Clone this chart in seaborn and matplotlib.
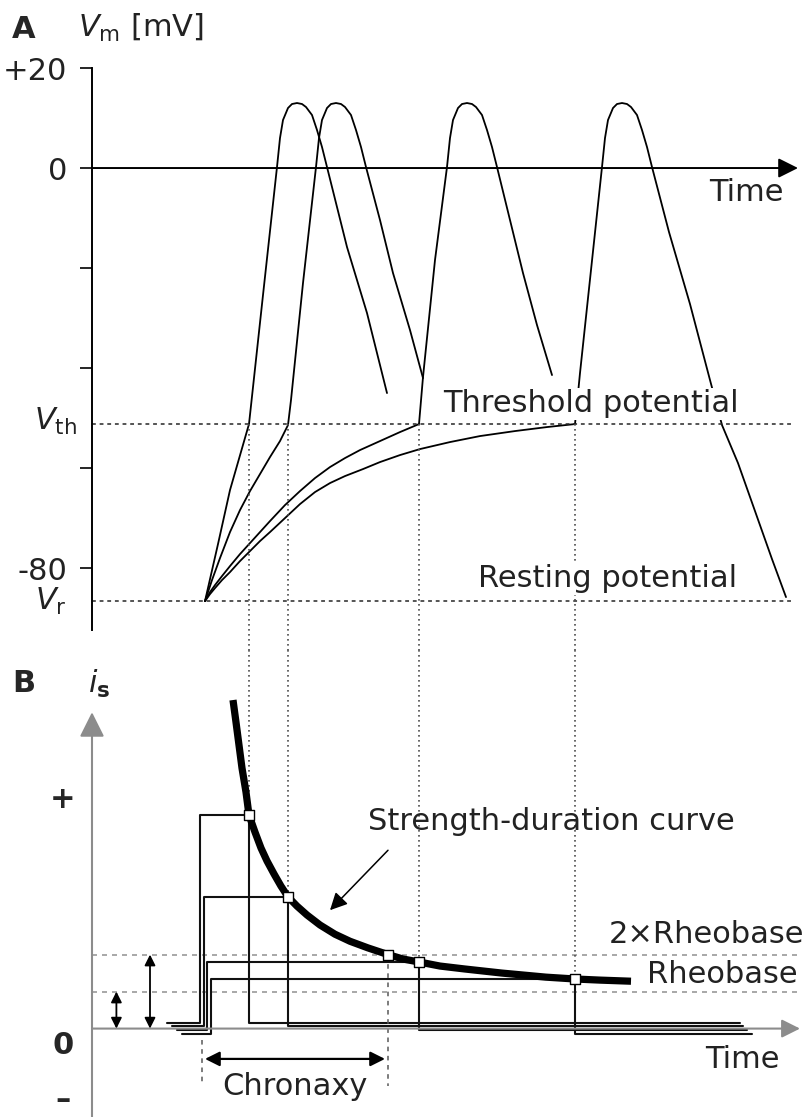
import numpy as np
import matplotlib
matplotlib.use("Agg")
import matplotlib.pyplot as plt
import seaborn as sns

# --- Panel A: membrane potential traces (time in ms, Vm in mV) ---
t1 = [0, 0.65, 1.25, 2.2, 2.9, 3.6, 3.75, 3.9, 4.15, 4.35, 4.6, 4.85, 5.05, 5.35, 5.6, 5.85, 6.1, 7.1, 8.1, 9.1]
v1 = [-86.6, -75.2, -64.4, -51.2, -25.4, 0.2, 6.0, 9.6, 12.0, 12.8, 13.0, 12.8, 12.2, 10.6, 7.6, 4.2, 0.2,
      -15.8, -29.0, -45.0]

t2 = [0, 0.35, 0.75, 1.25, 1.75, 2.25, 2.75, 3.25, 3.75, 4.15, 4.3, 4.9, 5.55, 5.7, 5.85, 6.1, 6.3, 6.55,
      6.8, 7.0, 7.3, 7.55, 7.8, 8.05, 8.75, 9.4, 10.25, 10.9]
v2 = [-86.6, -82.4, -78.0, -72.8, -68.4, -64.6, -61.2, -57.8, -54.6, -51.4, -46.4, -23.0, 0.2, 6.0, 9.6, 12.0,
      12.8, 13.0, 12.8, 12.2, 10.6, 7.6, 4.2, 0.2, -10.4, -21.0, -32.4, -42.0]

t3 = [0, 0.25, 0.5, 0.85, 1.25, 1.75, 2.25, 2.75, 3.25, 4.0, 4.75, 5.5, 6.25, 7.0, 7.75, 8.75, 9.75, 10.7,
      10.9, 11.5, 12.1, 12.25, 12.4, 12.65, 12.85, 13.1, 13.35, 13.55, 13.85, 14.1, 14.35, 14.6,
      15.25, 15.9, 16.6, 17.35]
v3 = [-86.6, -84.8, -83.4, -81.6, -79.6, -77.2, -75.0, -72.8, -70.6, -67.4, -64.6, -62.0, -59.8, -58.0, -56.4,
      -54.6, -52.8, -51.2, -41.8, -18.4, 0.2, 6.0, 9.6, 12.0, 12.8, 13.0, 12.8, 12.2, 10.6, 7.6, 4.2, 0.2,
      -10.4, -21.0, -31.4, -41.4]

t4 = [0, 0.25, 0.5, 0.85, 1.25, 1.75, 2.25, 2.75, 3.25, 4.0, 4.75, 5.5, 6.25, 7.0, 7.9, 8.75, 9.75, 10.75,
      12.25, 13.75, 15.5, 17.1, 18.5, 18.75, 19.3, 19.85, 20.0, 20.15, 20.4, 20.6, 20.85, 21.1, 21.3, 21.6,
      21.85, 22.1, 22.35, 23.2, 24.25, 25.25, 25.85, 26.65, 27.5, 28.35, 29.05]
v4 = [-86.6, -85.2, -84.0, -82.4, -80.8, -78.6, -76.6, -74.6, -72.8, -70.0, -67.2, -64.8, -63.0, -61.6, -60.2,
      -58.8, -57.4, -56.2, -54.8, -53.6, -52.6, -51.8, -51.2, -41.0, -20.4, 0.2, 6.0, 9.6, 12.0, 12.8, 13.0,
      12.8, 12.2, 10.6, 7.6, 4.2, 0.2, -12.8, -27.2, -42.4, -51.4, -59.0, -68.6, -78.2, -85.8]

v_rest = -86.6
v_thresh = -51.2

# --- Panel B: stimulus pulses (current in units of rheobase) ---
pulse_amp = [5.77, 3.56, 1.80, 1.34]
pulse_end = [2.2, 4.15, 10.7, 18.5]
pulse_onset = [-0.25, -0.05, 0.1, 0.3]
pulse_base = [0.16, 0.08, -0.04, -0.15]
pulse_from = [-1.9, -1.65, -1.4, -1.15]
pulse_to = [26.75, 26.9, 27.1, 27.35]

# strength-duration curve
sd_t = [1.4, 1.55, 1.7, 1.85, 2.05, 2.2, 2.5, 2.8, 3.1, 3.45, 3.8, 4.15, 4.6, 5.1, 5.75, 6.5, 7.25, 8.15,
        9.15, 9.9, 10.7, 11.75, 13.0, 14.85, 17.05, 18.5, 19.75, 21.3]
sd_i = [8.88, 8.28, 7.66, 7.04, 6.39, 5.77, 5.31, 4.88, 4.53, 4.18, 3.85, 3.56, 3.31, 3.07, 2.80, 2.55, 2.36,
        2.18, 2.0, 1.88, 1.80, 1.69, 1.61, 1.50, 1.39, 1.34, 1.31, 1.28]

rheobase = 1.0
chronaxie = 9.15

sns.set_theme(style="white")
plt.rcParams["font.family"] = ["DejaVu Sans"]
plt.rcParams["mathtext.fontset"] = "dejavusans"

FS = 22
XLIM = (-10.25, 30.2)
Y_AXIS_T = -5.65
TXT = "#222222"

fig = plt.figure(figsize=(8.09, 11.17), dpi=100)
axA = fig.add_axes([0, 0.418, 1, 0.582])
axB = fig.add_axes([0, 0, 1, 0.418])
for ax in (axA, axB):
    ax.set_facecolor("none")
    ax.set_xticks([])

# ---------------- Panel A ----------------
for t, v in [(t1, v1), (t2, v2), (t3, v3), (t4, v4)]:
    sns.lineplot(x=t, y=v, ax=axA, sort=False, estimator=None, color="black", linewidth=1.3)

dot_kw = dict(color="0.15", linewidth=1.1, linestyle=(0, (2.5, 2.5)))
axA.plot([Y_AXIS_T, 29.4], [v_thresh, v_thresh], **dot_kw)
axA.plot([Y_AXIS_T, 29.4], [v_rest, v_rest], **dot_kw)

vdot_kw = dict(color="0.3", linewidth=1.2, linestyle=(0, (1, 2)))
for te in pulse_end:
    axA.plot([te, te], [v_thresh, -96.4], **vdot_kw)

axA.annotate("", xy=(29.65, 0), xytext=(Y_AXIS_T, 0),
             arrowprops=dict(arrowstyle="-|>", color="black", lw=1.4, mutation_scale=30,
                             shrinkA=0, shrinkB=0))

for s in ["top", "right", "bottom"]:
    axA.spines[s].set_visible(False)
axA.spines["left"].set_position(("data", Y_AXIS_T))
axA.spines["left"].set_bounds(-92.4, 20)
axA.spines["left"].set_color("black")
axA.spines["left"].set_linewidth(1.4)
axA.set_yticks([20, 0, -20, -40, -60, -80])
axA.set_yticklabels(["+20", "0", "", "", "", "-80"])
axA.tick_params(axis="y", left=True, direction="out", length=8.6, width=1.2,
                color="black", pad=9, labelsize=FS, labelcolor=TXT)

axA.text(-9.65, 26.0, "A", fontsize=FS, fontweight="bold", va="baseline")
axA.text(-6.35, 26.2, r"$V_\mathrm{m}$ [mV]", fontsize=FS, va="baseline", color=TXT)
axA.text(-6.4, -52.4, r"$V_\mathrm{th}$", fontsize=FS, ha="right", va="baseline", color=TXT)
axA.text(-6.9, -88.4, r"$V_\mathrm{r}$", fontsize=FS, ha="right", va="baseline", color=TXT)
axA.text(25.2, -6.5, "Time", fontsize=FS, va="baseline", color=TXT)
axA.text(11.9, -48.8, "Threshold potential", fontsize=FS, va="baseline", color=TXT,
         bbox=dict(boxstyle="square,pad=0.05", facecolor="white", edgecolor="none"), zorder=5)
axA.text(13.65, -83.8, "Resting potential", fontsize=FS, va="baseline", color=TXT,
         bbox=dict(boxstyle="square,pad=0.05", facecolor="white", edgecolor="none"), zorder=5)

# ---------------- Panel B ----------------
for s in axB.spines.values():
    s.set_visible(False)
axB.set_yticks([])

gray = "#8c8c8c"
axB.annotate("", xy=(Y_AXIS_T, 8.55), xytext=(Y_AXIS_T, -2.39),
             arrowprops=dict(arrowstyle="-|>", color=gray, lw=1.5, mutation_scale=38,
                             shrinkA=0, shrinkB=0))
axB.annotate("", xy=(29.75, 0), xytext=(Y_AXIS_T, 0),
             arrowprops=dict(arrowstyle="-|>", color=gray, lw=1.5, mutation_scale=28,
                             shrinkA=0, shrinkB=0))

rb_kw = dict(color="#9a9a9a", linewidth=1.2, linestyle=(0, (3, 3)))
axB.plot([Y_AXIS_T, 29.75], [rheobase, rheobase], **rb_kw)
axB.plot([Y_AXIS_T, 29.75], [2 * rheobase, 2 * rheobase], **rb_kw)

for k in range(len(pulse_amp)):
    xs = [pulse_from[k], pulse_onset[k], pulse_onset[k], pulse_end[k], pulse_end[k], pulse_to[k]]
    ys = [pulse_base[k], pulse_base[k], pulse_amp[k], pulse_amp[k], pulse_base[k], pulse_base[k]]
    sns.lineplot(x=xs, y=ys, ax=axB, sort=False, estimator=None, color="#111111", linewidth=1.5)
    axB.plot([pulse_end[k], pulse_end[k]], [10.23, pulse_amp[k]], **vdot_kw)

sns.lineplot(x=sd_t, y=sd_i, ax=axB, sort=False, estimator=None, color="black", linewidth=5.2,
             solid_capstyle="butt")

sq_t = pulse_end[:3] + [chronaxie] + pulse_end[3:]
sq_i = pulse_amp[:3] + [2 * rheobase] + pulse_amp[3:]
sns.scatterplot(x=sq_t, y=sq_i, ax=axB, marker="s", s=58, color="white", edgecolor="black",
                linewidth=1.0, zorder=6)

# chronaxy markers
dash_kw = dict(color="0.35", linewidth=1.1, linestyle=(0, (3, 3)))
axB.plot([chronaxie, chronaxie], [2 * rheobase, -1.55], **dash_kw)
axB.plot([-0.15, -0.15], [-0.3, -1.5], **dash_kw)
axB.annotate("", xy=(9.0, -0.82), xytext=(0.0, -0.82),
             arrowprops=dict(arrowstyle="<|-|>", color="black", lw=1.6, mutation_scale=22,
                             shrinkA=0, shrinkB=0))

# rheobase / 2x rheobase double arrows
axB.annotate("", xy=(-4.43, rheobase), xytext=(-4.43, 0),
             arrowprops=dict(arrowstyle="<|-|>", color="black", lw=1.3, mutation_scale=16,
                             shrinkA=0, shrinkB=0))
axB.annotate("", xy=(-2.75, 2 * rheobase), xytext=(-2.75, 0),
             arrowprops=dict(arrowstyle="<|-|>", color="black", lw=1.3, mutation_scale=16,
                             shrinkA=0, shrinkB=0))

# arrow to the curve
axB.annotate("", xy=(6.25, 3.2), xytext=(9.15, 4.82),
             arrowprops=dict(arrowstyle="-|>", color="black", lw=1.1, mutation_scale=26,
                             shrinkA=0, shrinkB=0))

axB.text(-9.65, 9.32, "B", fontsize=FS, fontweight="bold", va="center")
axB.text(-5.85, 9.07, r"$i_\mathbf{s}$", fontsize=FS, va="baseline", color=TXT)
axB.text(-7.1, 6.18, "+", fontsize=FS, fontweight="bold", ha="center", va="center")
axB.text(-7.1, -0.45, "0", fontsize=FS, fontweight="bold", ha="center", va="center")
axB.text(-7.1, -1.93, "\u2013", fontsize=FS, fontweight="bold", ha="center", va="center")
axB.text(8.15, 5.36, "Strength-duration curve", fontsize=FS, va="baseline", color=TXT)
axB.text(20.2, 2.31, "2\u00d7Rheobase", fontsize=FS, va="baseline", color=TXT)
axB.text(22.1, 1.23, "Rheobase", fontsize=FS, va="baseline", color=TXT)
axB.text(0.85, -1.8, "Chronaxy", fontsize=FS, va="baseline", color=TXT)
axB.text(25.0, -1.07, "Time", fontsize=FS, va="baseline", color=TXT)

for ax in (axA, axB):
    ax.set_xlabel("")
    ax.set_ylabel("")
    ax.set_xlim(*XLIM)
axA.set_ylim(-96.4, 33.6)
axB.set_ylim(-2.39, 10.23)

fig.savefig("out.png", dpi=100)
